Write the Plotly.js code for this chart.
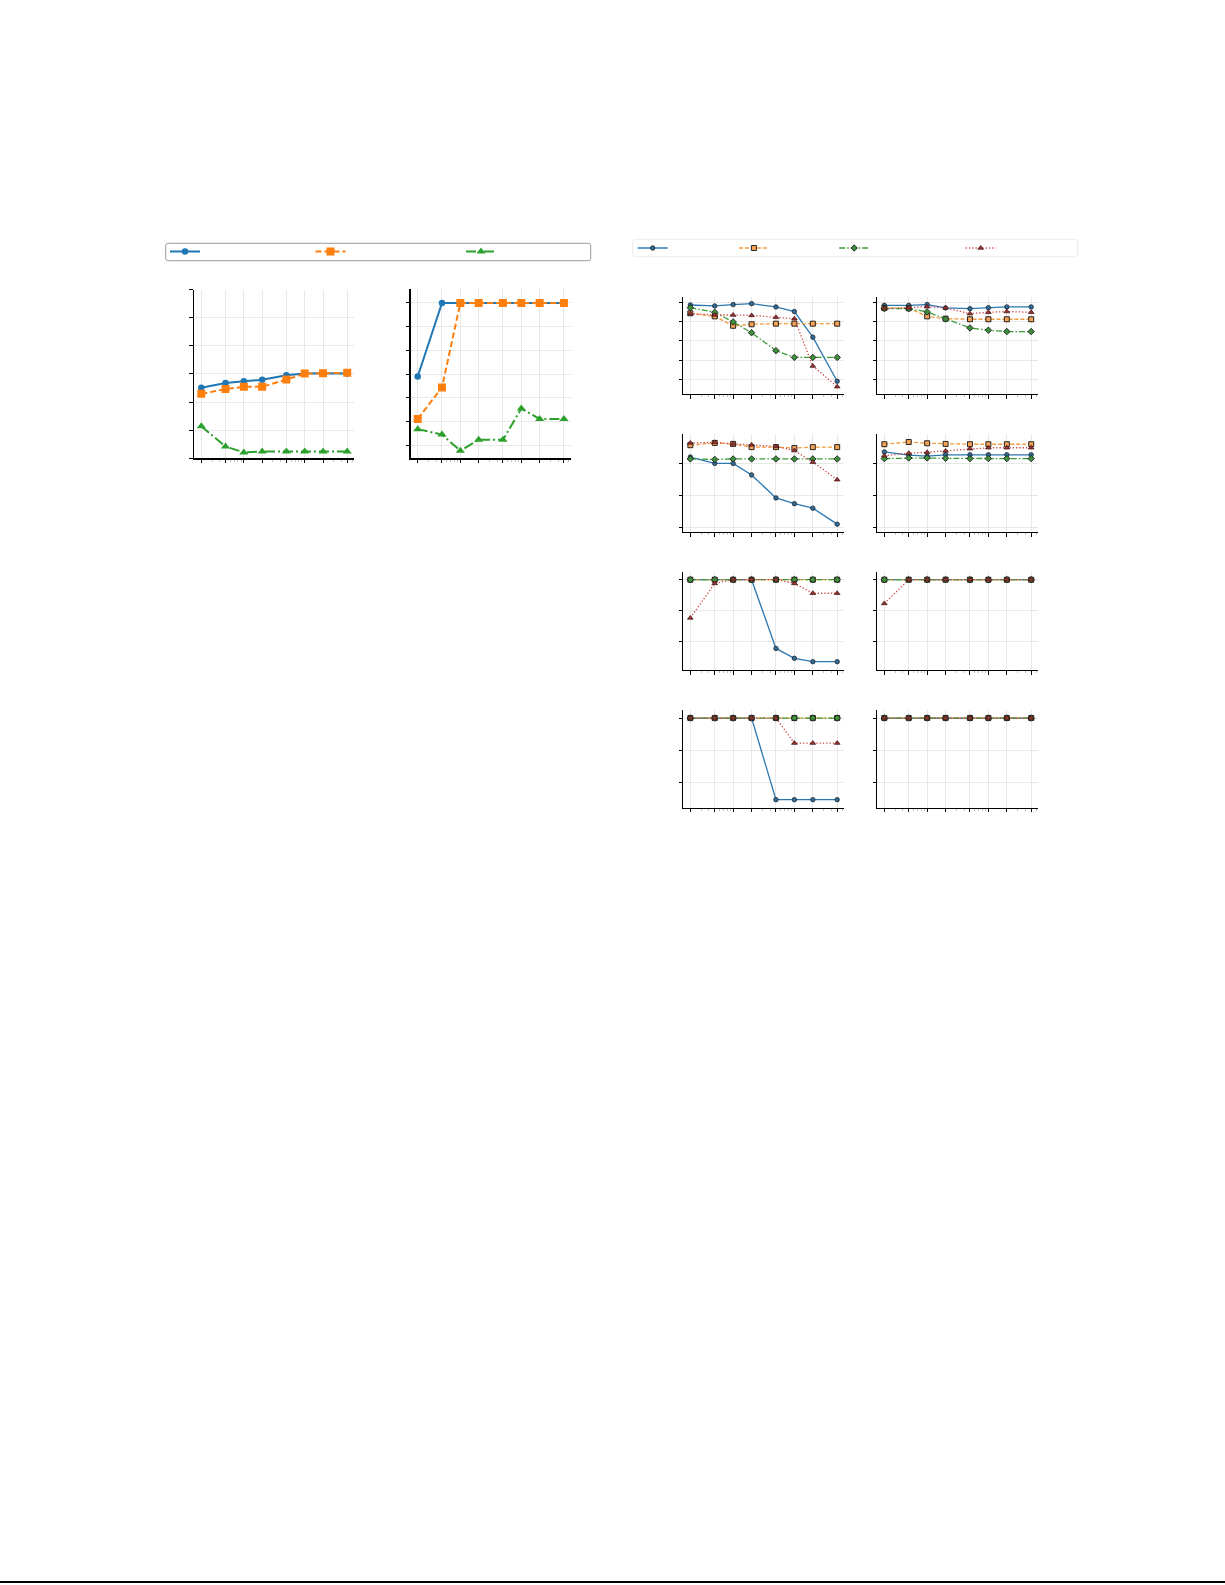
<!DOCTYPE html>
<html>
<head>
<meta charset="utf-8">
<script src="https://cdn.plot.ly/plotly-3.0.1.min.js"></script>
<style>
  html, body { margin: 0; padding: 0; background: #fff; }
  #page { width: 1225px; height: 1585px; }
</style>
</head>
<body>
<div id="page"></div>
<script>
// x positions shared by every panel (log axis)
const steps = [2, 5, 10, 20, 50, 100, 200, 500];
const minorSteps = [3, 4, 6, 7, 8, 9, 30, 40, 60, 70, 80, 90, 300, 400, 600];

// left figure, panel A
const aCircle = [25.1, 26.8, 27.4, 27.9, 29.5, 30.1, 30.2, 30.1];
const aSquare = [22.9, 24.6, 25.4, 25.4, 28.0, 30.1, 30.2, 30.4];
const aTriangle = [11.4, 4.2, 2.1, 2.4, 2.4, 2.4, 2.4, 2.4];
// left figure, panel B
const bCircle = [0.690, 1.0, 1.0, 1.0, 1.0, 1.0, 1.0, 1.0];
const bSquare = [0.511, 0.644, 1.0, 1.0, 1.0, 1.0, 1.0, 1.0];
const bTriangle = [0.468, 0.445, 0.377, 0.423, 0.423, 0.555, 0.511, 0.511];

// right figure, row 1
const r1c1Circle = [0.972, 0.962, 0.976, 0.986, 0.952, 0.904, 0.638, 0.180];
const r1c1Square = [0.886, 0.854, 0.756, 0.772, 0.778, 0.778, 0.778, 0.778];
const r1c1Diamond = [0.944, 0.896, 0.796, 0.684, 0.498, 0.428, 0.428, 0.428];
const r1c1Triangle = [0.882, 0.868, 0.868, 0.864, 0.844, 0.830, 0.338, 0.124];
const r1c2Circle = [0.968, 0.968, 0.976, 0.942, 0.934, 0.944, 0.952, 0.952];
const r1c2Square = [0.942, 0.938, 0.854, 0.830, 0.824, 0.824, 0.824, 0.824];
const r1c2Diamond = [0.934, 0.934, 0.900, 0.826, 0.734, 0.710, 0.696, 0.696];
const r1c2Triangle = [0.934, 0.942, 0.954, 0.942, 0.882, 0.896, 0.904, 0.896];
// row 2
const r2c1Circle = [1.040, 1.000, 1.000, 0.928, 0.784, 0.748, 0.720, 0.620];
const r2c1Square = [1.114, 1.128, 1.122, 1.102, 1.102, 1.096, 1.102, 1.102];
const r2c1Diamond = [1.028, 1.025, 1.028, 1.028, 1.028, 1.028, 1.028, 1.028];
const r2c1Triangle = [1.128, 1.132, 1.122, 1.116, 1.106, 1.080, 1.008, 0.898];
const r2c2Circle = [1.072, 1.052, 1.046, 1.054, 1.054, 1.054, 1.054, 1.054];
const r2c2Square = [1.120, 1.134, 1.126, 1.122, 1.120, 1.120, 1.120, 1.120];
const r2c2Diamond = [1.030, 1.034, 1.034, 1.032, 1.030, 1.030, 1.030, 1.030];
const r2c2Triangle = [1.048, 1.064, 1.070, 1.078, 1.092, 1.098, 1.098, 1.098];
// row 3
const r3c1Circle = [1.0, 1.0, 1.0, 1.0, 0.554, 0.490, 0.468, 0.468];
const r3c1Square = [1.0, 1.0, 1.0, 1.0, 1.0, 1.0, 1.0, 1.0];
const r3c1Diamond = [1.0, 1.0, 1.0, 1.0, 1.0, 1.0, 1.0, 1.0];
const r3c1Triangle = [0.752, 0.976, 1.0, 1.0, 1.0, 0.976, 0.912, 0.912];
const r3c2Circle = [1.0, 1.0, 1.0, 1.0, 1.0, 1.0, 1.0, 1.0];
const r3c2Square = [1.0, 1.0, 1.0, 1.0, 1.0, 1.0, 1.0, 1.0];
const r3c2Diamond = [1.0, 1.0, 1.0, 1.0, 1.0, 1.0, 1.0, 1.0];
const r3c2Triangle = [0.846, 1.0, 1.0, 1.0, 1.0, 1.0, 1.0, 1.0];
// row 4
const r4c1Circle = [1.0, 1.0, 1.0, 1.0, 0.492, 0.492, 0.492, 0.492];
const r4c1Square = [1.0, 1.0, 1.0, 1.0, 1.0, 1.0, 1.0, 1.0];
const r4c1Diamond = [1.0, 1.0, 1.0, 1.0, 1.0, 1.0, 1.0, 1.0];
const r4c1Triangle = [1.0, 1.0, 1.0, 1.0, 1.0, 0.844, 0.844, 0.844];
const r4c2Circle = [1.0, 1.0, 1.0, 1.0, 1.0, 1.0, 1.0, 1.0];
const r4c2Square = [1.0, 1.0, 1.0, 1.0, 1.0, 1.0, 1.0, 1.0];
const r4c2Diamond = [1.0, 1.0, 1.0, 1.0, 1.0, 1.0, 1.0, 1.0];
const r4c2Triangle = [1.0, 1.0, 1.0, 1.0, 1.0, 1.0, 1.0, 1.0];

const W = 1225, H = 1585;
const px = v => v / W;
const py = v => 1 - v / H;

// styles, left figure
const leftStyles = [
  { line: { color: '#1f77b4', width: 2 }, marker: { symbol: 'circle', size: 6.5, color: '#1f77b4' } },
  { line: { color: '#ff7f0e', width: 2, dash: '6px,3px' }, marker: { symbol: 'square', size: 8, color: '#ff7f0e' } },
  { line: { color: '#2ca02c', width: 2, dash: '10px,3px,2px,3px' }, marker: { symbol: 'triangle-up', size: 8, color: '#2ca02c' } }
];
// styles, right figure
const rightStyles = [
  { line: { color: '#2c77b0', width: 1.3 }, marker: { symbol: 'circle', size: 4.5, color: '#2f6c9a', line: { color: '#1a1a1a', width: 0.7 } } },
  { line: { color: '#f29b3f', width: 1.3, dash: '4px,2px' }, marker: { symbol: 'square', size: 5, color: '#f3a257', line: { color: '#111', width: 0.9 } } },
  { line: { color: '#3b9b3b', width: 1.3, dash: '6px,2px,1.5px,2px' }, marker: { symbol: 'diamond', size: 5, color: '#3d8e3d', line: { color: '#111', width: 0.8 } } },
  { line: { color: '#cc4a4c', width: 1.3, dash: '1.3px,2px' }, marker: { symbol: 'triangle-up', size: 5, color: '#9c3333', line: { color: '#3a1010', width: 0.7 } } }
];

const traces = [];
function addPanel(series, styles, n, legends) {
  series.forEach((ys, i) => {
    const t = {
      x: steps, y: ys, type: 'scatter', mode: 'lines+markers',
      xaxis: n === 1 ? 'x' : 'x' + n, yaxis: n === 1 ? 'y' : 'y' + n,
      line: styles[i].line, marker: styles[i].marker,
      name: ' ', showlegend: false, hoverinfo: 'skip'
    };
    if (legends) { t.showlegend = true; t.legend = legends[i]; }
    traces.push(t);
  });
}

addPanel([aCircle, aSquare, aTriangle], leftStyles, 1, ['legend', 'legend2', 'legend3']);
addPanel([bCircle, bSquare, bTriangle], leftStyles, 2);
addPanel([r1c1Circle, r1c1Square, r1c1Diamond, r1c1Triangle], rightStyles, 3, ['legend4', 'legend5', 'legend6', 'legend7']);
addPanel([r1c2Circle, r1c2Square, r1c2Diamond, r1c2Triangle], rightStyles, 4);
addPanel([r2c1Circle, r2c1Square, r2c1Diamond, r2c1Triangle], rightStyles, 5);
addPanel([r2c2Circle, r2c2Square, r2c2Diamond, r2c2Triangle], rightStyles, 6);
addPanel([r3c1Circle, r3c1Square, r3c1Diamond, r3c1Triangle], rightStyles, 7);
addPanel([r3c2Circle, r3c2Square, r3c2Diamond, r3c2Triangle], rightStyles, 8);
addPanel([r4c1Circle, r4c1Square, r4c1Diamond, r4c1Triangle], rightStyles, 9);
addPanel([r4c2Circle, r4c2Square, r4c2Diamond, r4c2Triangle], rightStyles, 10);

function xAxis(x0, x1, n, lw) {
  return {
    type: 'log', domain: [px(x0), px(x1)], anchor: n === 1 ? 'y' : 'y' + n,
    range: [0.186, 2.81], tickmode: 'array', tickvals: steps,
    showticklabels: false, ticks: 'outside', ticklen: 3.5, tickwidth: 1, tickcolor: '#000',
    showline: true, linecolor: '#000', linewidth: lw,
    showgrid: true, gridcolor: '#e2e2e2', gridwidth: 0.8, zeroline: false,
    minor: { tickmode: 'array', tickvals: minorSteps, ticks: 'outside', ticklen: 2, tickwidth: 0.5, tickcolor: '#888', showgrid: false },
    fixedrange: true
  };
}
function yAxis(top, bottom, n, range, ticks, lw) {
  return {
    domain: [py(bottom), py(top)], anchor: n === 1 ? 'x' : 'x' + n,
    range: range, tickmode: 'array', tickvals: ticks,
    showticklabels: false, ticks: 'outside', ticklen: 3.5, tickwidth: 1, tickcolor: '#000',
    showline: true, linecolor: '#000', linewidth: lw,
    showgrid: true, gridcolor: '#e2e2e2', gridwidth: 0.8, zeroline: false,
    fixedrange: true
  };
}

const tickA = [0, 10, 20, 30, 40, 50, 60];
const tickB = [0.4, 0.5, 0.6, 0.7, 0.8, 0.9, 1.0];
const tickR1 = [0.2, 0.4, 0.6, 0.8, 1.0];
const tickRn = [0.6, 0.8, 1.0];

const layout = {
  width: W, height: H,
  margin: { l: 0, r: 0, t: 0, b: 0 },
  paper_bgcolor: '#fff', plot_bgcolor: 'rgba(0,0,0,0)',
  showlegend: true,
  xaxis: xAxis(194.3, 354, 1, 1.5), yaxis: yAxis(289.5, 458.3, 1, [0, 60], tickA, 1.5),
  xaxis2: xAxis(410.7, 570.7, 2, 1.5), yaxis2: yAxis(289, 458.3, 2, [0.345, 1.059], tickB, 1.5),
  xaxis3: xAxis(683.3, 844, 3, 1.1), yaxis3: yAxis(296.7, 394, 3, [0.048, 1.058], tickR1, 1.1),
  xaxis4: xAxis(877.3, 1038, 4, 1.1), yaxis4: yAxis(296.7, 394, 4, [0.048, 1.058], tickR1, 1.1),
  xaxis5: xAxis(683.3, 844, 5, 1.1), yaxis5: yAxis(434, 532.3, 5, [0.569, 1.184], tickRn, 1.1),
  xaxis6: xAxis(877.3, 1038, 6, 1.1), yaxis6: yAxis(434, 532.3, 6, [0.569, 1.184], tickRn, 1.1),
  xaxis7: xAxis(683.3, 844, 7, 1.1), yaxis7: yAxis(572.3, 670, 7, [0.414, 1.048], tickRn, 1.1),
  xaxis8: xAxis(877.3, 1038, 8, 1.1), yaxis8: yAxis(572.3, 670, 8, [0.414, 1.048], tickRn, 1.1),
  xaxis9: xAxis(683.3, 844, 9, 1.1), yaxis9: yAxis(710, 807.7, 9, [0.442, 1.05], tickRn, 1.1),
  xaxis10: xAxis(877.3, 1038, 10, 1.1), yaxis10: yAxis(710, 807.7, 10, [0.442, 1.05], tickRn, 1.1),
  shapes: []
};

// one legend per entry so each sits where the reference has it
function legendAt(x, cy) {
  return { x: px(x), y: py(cy), xanchor: 'left', yanchor: 'middle', orientation: 'h',
    bgcolor: 'rgba(0,0,0,0)', borderwidth: 0, font: { size: 10, color: '#000' } };
}
layout.legend = legendAt(165, 251.5);
layout.legend2 = legendAt(310.5, 251.5);
layout.legend3 = legendAt(461, 251.5);
layout.legend4 = legendAt(632.7, 248);
layout.legend5 = legendAt(733.9, 248);
layout.legend6 = legendAt(834.2, 248);
layout.legend7 = legendAt(960.7, 248);

// legend frames with small rounded corners
function roundRect(x0, y0, x1, y1, r) {
  const X = v => px(v).toFixed(5), Y = v => py(v).toFixed(5);
  return 'M' + X(x0 + r) + ',' + Y(y0) + ' L' + X(x1 - r) + ',' + Y(y0) +
    ' Q' + X(x1) + ',' + Y(y0) + ' ' + X(x1) + ',' + Y(y0 + r) +
    ' L' + X(x1) + ',' + Y(y1 - r) +
    ' Q' + X(x1) + ',' + Y(y1) + ' ' + X(x1 - r) + ',' + Y(y1) +
    ' L' + X(x0 + r) + ',' + Y(y1) +
    ' Q' + X(x0) + ',' + Y(y1) + ' ' + X(x0) + ',' + Y(y1 - r) +
    ' L' + X(x0) + ',' + Y(y0 + r) +
    ' Q' + X(x0) + ',' + Y(y0) + ' ' + X(x0 + r) + ',' + Y(y0) + ' Z';
}
layout.shapes.push({ type: 'path', xref: 'paper', yref: 'paper', path: roundRect(165.7, 243.3, 590.7, 260.7, 2.5),
  line: { color: '#9a9a9a', width: 1 }, fillcolor: 'rgba(0,0,0,0)', layer: 'below' });
layout.shapes.push({ type: 'path', xref: 'paper', yref: 'paper', path: roundRect(632.7, 239.3, 1077.7, 256.7, 2.5),
  line: { color: '#ececec', width: 1 }, fillcolor: 'rgba(0,0,0,0)', layer: 'below' });
// rule at the foot of the page
layout.shapes.push({ type: 'line', xref: 'paper', yref: 'paper', x0: 0, x1: 1, y0: py(1582), y1: py(1582),
  line: { color: '#000', width: 2 } });

Plotly.newPlot('page', traces, layout, { staticPlot: true, displayModeBar: false });
</script>
</body>
</html>
